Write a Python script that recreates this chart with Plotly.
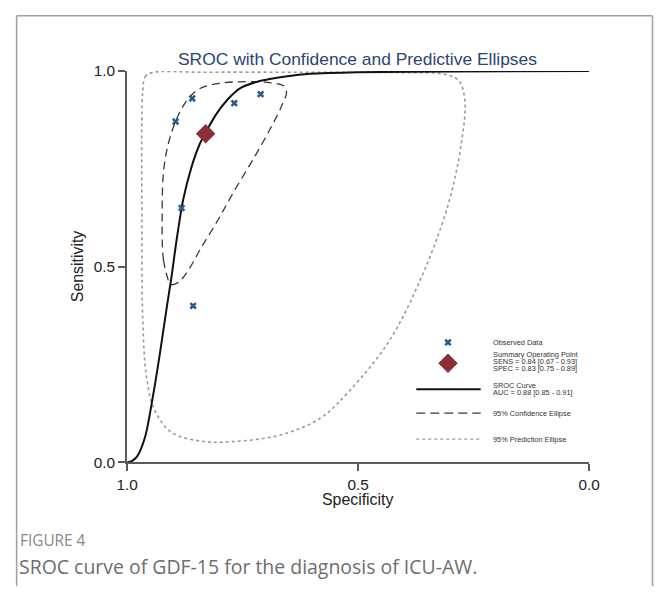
import plotly.graph_objects as go

# ---------------- data (specificity, sensitivity) ----------------
obs_spec = [0.859, 0.895, 0.768, 0.711, 0.882, 0.857]
obs_sens = [0.930, 0.871, 0.918, 0.941, 0.650, 0.400]

sum_spec = [0.83]
sum_sens = [0.84]

sroc_spec = [1.0, 0.99, 0.979, 0.961, 0.943, 0.929, 0.914, 0.904, 0.893, 0.879,
             0.861, 0.843, 0.829, 0.807, 0.782, 0.754, 0.711, 0.653, 0.604, 0.5, 0.3, 0.0]
sroc_sens = [0.0, 0.003, 0.014, 0.065, 0.176, 0.278, 0.397, 0.473, 0.567, 0.669,
             0.753, 0.813, 0.845, 0.890, 0.928, 0.957, 0.975, 0.987, 0.993, 0.997, 0.999, 1.0]

conf_spec = [0.907, 0.921, 0.924, 0.921, 0.911, 0.893, 0.871, 0.846, 0.804, 0.739, 0.689,
             0.661, 0.655, 0.664, 0.689, 0.725, 0.768, 0.804, 0.839, 0.868, 0.889, 0.904, 0.907]
conf_sens = [0.456, 0.516, 0.643, 0.745, 0.813, 0.877, 0.924, 0.953, 0.968, 0.973, 0.970,
             0.962, 0.945, 0.915, 0.855, 0.779, 0.694, 0.618, 0.550, 0.490, 0.460, 0.454, 0.456]

pred_spec = [0.966, 0.961, 0.946, 0.839, 0.625, 0.411, 0.314, 0.282, 0.269, 0.276, 0.303,
             0.357, 0.432, 0.518, 0.582, 0.668, 0.775, 0.839, 0.904, 0.940, 0.957, 0.966,
             0.968, 0.968, 0.966]
pred_sens = [0.949, 0.985, 0.996, 0.997, 0.997, 0.996, 0.992, 0.975, 0.924, 0.821, 0.668,
             0.490, 0.312, 0.184, 0.113, 0.070, 0.053, 0.054, 0.077, 0.133, 0.210, 0.363,
             0.668, 0.872, 0.949]

tick_vals = [1.0, 0.5, 0.0]
tick_text = ["1.0", "0.5", "0.0"]

title_text = "SROC with Confidence and Predictive Ellipses"
legend_labels = [
    ["Observed Data"],
    ["Summary Operating Point", "SENS = 0.84 [0.67 - 0.93]", "SPEC = 0.83 [0.75 - 0.89]"],
    ["SROC Curve", "AUC = 0.88 [0.85 - 0.91]"],
    ["95% Confidence Ellipse"],
    ["95% Prediction Ellipse"],
]
fig_label = "FIGURE 4"
caption = "SROC curve of GDF-15 for the diagnosis of ICU-AW."

# ---------------- geometry ----------------
OFF = 8                        # page body margin
SX = 657 / (657 + 2 * OFF)     # the photographed page is scaled down to the window
SY = 594 / (594 + 2 * OFF)
W, H = 665, 594                # figure size


def px(D):
    """window pixel -> paper fraction"""
    return (D / SX - OFF) / W


def py(D):
    return 1 - (D / SY - OFF) / H


def fs(size):
    return size / SX


X0, X1 = 125.0, 591.6      # window pixels of spec 1.0 / 0.0
Y0, Y1 = 462.3, 70.0       # window pixels of sens 0.0 / 1.0
FONT = "Liberation Sans, Arial, sans-serif"
AX_COL = "#5a5a5a"
BLUE = "#2d5a88"
RED = "#8b2e36"

fig = go.Figure()

fig.add_trace(go.Scatter(x=pred_spec, y=pred_sens, mode="lines",
                         line=dict(color="#9a9a9a", width=1.6, dash="dot", shape="spline", smoothing=1.0),
                         hoverinfo="skip"))
fig.add_trace(go.Scatter(x=conf_spec, y=conf_sens, mode="lines",
                         line=dict(color="#3a3a3a", width=1.3, dash="8px,5px", shape="spline", smoothing=1.0),
                         hoverinfo="skip"))
fig.add_trace(go.Scatter(x=sroc_spec, y=sroc_sens, mode="lines",
                         line=dict(color="#111111", width=2, shape="spline", smoothing=0.8),
                         hoverinfo="skip"))
fig.add_trace(go.Scatter(x=obs_spec, y=obs_sens, mode="markers",
                         marker=dict(symbol="x", size=6.5, color=BLUE, line=dict(width=0)),
                         cliponaxis=False))
fig.add_trace(go.Scatter(x=sum_spec, y=sum_sens, mode="markers",
                         marker=dict(symbol="diamond", size=15, color=RED, line=dict(width=0)),
                         cliponaxis=False))

# ---------------- legend on an overlay pixel axis (window pixels) ----------------
LX_SYM = 449
LX_LINE0, LX_LINE1 = 417, 482
LX_TXT = 492
fig.add_trace(go.Scatter(x=[LX_SYM], y=[342], xaxis="x2", yaxis="y2", mode="markers",
                         marker=dict(symbol="x", size=6.5, color=BLUE, line=dict(width=0)), cliponaxis=False))
fig.add_trace(go.Scatter(x=[LX_SYM], y=[363], xaxis="x2", yaxis="y2", mode="markers",
                         marker=dict(symbol="diamond", size=15, color=RED, line=dict(width=0)), cliponaxis=False))
fig.add_trace(go.Scatter(x=[LX_LINE0, LX_LINE1], y=[389, 389], xaxis="x2", yaxis="y2", mode="lines",
                         line=dict(color="#111111", width=2)))
fig.add_trace(go.Scatter(x=[LX_LINE0, LX_LINE1], y=[413, 413], xaxis="x2", yaxis="y2", mode="lines",
                         line=dict(color="#3a3a3a", width=1.3, dash="9px,5px")))
fig.add_trace(go.Scatter(x=[LX_LINE0, LX_LINE1], y=[439, 439], xaxis="x2", yaxis="y2", mode="lines",
                         line=dict(color="#9a9a9a", width=1.2, dash="dot")))

annotations = []
legend_ys = [[342], [354.5, 361.5, 368.5], [385.5, 392.5], [413], [439]]
for lines, ys in zip(legend_labels, legend_ys):
    for t, yy in zip(lines, ys):
        annotations.append(dict(x=px(LX_TXT), y=py(yy), xref="paper", yref="paper",
                                text=t, showarrow=False, xanchor="left", yanchor="middle",
                                font=dict(family=FONT, size=fs(7.2), color="#333333")))

annotations.append(dict(x=px(358), y=py(58), xref="paper", yref="paper", text=title_text,
                        showarrow=False, xanchor="center", yanchor="middle",
                        font=dict(family=FONT, size=fs(17), color="#2b4472")))
annotations.append(dict(x=px(358), y=py(499), xref="paper", yref="paper", text="Specificity",
                        showarrow=False, xanchor="center", yanchor="middle",
                        font=dict(family=FONT, size=fs(15.5), color="#222222")))
annotations.append(dict(x=px(75), y=py(266), xref="paper", yref="paper", text="Sensitivity",
                        showarrow=False, xanchor="center", yanchor="middle", textangle=-90,
                        font=dict(family=FONT, size=fs(15.5), color="#222222")))
annotations.append(dict(x=px(15), y=py(541), xref="paper", yref="paper", text=fig_label,
                        showarrow=False, xanchor="left", yanchor="middle",
                        font=dict(family="Open Sans, sans-serif", size=fs(15), color="#888888")))
annotations.append(dict(x=px(14), y=py(567), xref="paper", yref="paper", text=caption,
                        showarrow=False, xanchor="left", yanchor="middle",
                        font=dict(family="Open Sans, sans-serif", size=fs(19), color="#6e6e6e")))

RIGHT_P = min(1.0 - 0.8 / W, px(655.5))
shapes = [
    dict(type="line", xref="paper", yref="paper", x0=px(13.5), x1=RIGHT_P, y0=py(14.5), y1=py(14.5),
         line=dict(color="#a0a0a0", width=1.5)),
    dict(type="line", xref="paper", yref="paper", x0=px(13.5), x1=px(13.5), y0=py(14.5), y1=0,
         line=dict(color="#a0a0a0", width=1.5)),
    dict(type="line", xref="paper", yref="paper", x0=RIGHT_P, x1=RIGHT_P, y0=py(14.5), y1=0,
         line=dict(color="#a0a0a0", width=1.5)),
]

fig.update_layout(
    width=W, height=H, margin=dict(l=0, r=0, t=0, b=0),
    paper_bgcolor="white", plot_bgcolor="rgba(0,0,0,0)", showlegend=False,
    annotations=annotations, shapes=shapes,
    xaxis=dict(domain=[px(X0), px(X1)], range=[1.0, 0.0], tickvals=tick_vals, ticktext=tick_text,
               showgrid=False, zeroline=False, showline=True, linecolor=AX_COL, linewidth=2,
               ticks="outside", ticklen=7, tickwidth=1.5, tickcolor=AX_COL,
               tickfont=dict(family=FONT, size=fs(15), color="#222222"), anchor="y"),
    yaxis=dict(domain=[py(Y0), py(Y1)], range=[0.0, 1.0], tickvals=tick_vals, ticktext=tick_text,
               showgrid=False, zeroline=False, showline=True, linecolor=AX_COL, linewidth=2,
               ticks="outside", ticklen=7, tickwidth=1.5, tickcolor=AX_COL,
               tickfont=dict(family=FONT, size=fs(15), color="#222222"), anchor="x"),
    xaxis2=dict(domain=[0, 1], range=[SX * OFF, SX * (OFF + W)], visible=False, anchor="y2"),
    yaxis2=dict(domain=[0, 1], range=[SY * (OFF + H), SY * OFF], visible=False, anchor="x2"),
)

fig.write_html("out.html")
